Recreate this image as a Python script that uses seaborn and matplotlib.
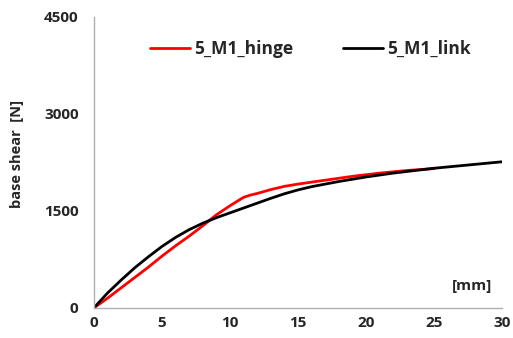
import numpy as np
import pandas as pd
import matplotlib
matplotlib.use("Agg")
import matplotlib.pyplot as plt
import seaborn as sns

# displacement [mm] and base shear [N]
hinge_x = [0, 1, 2, 3, 4, 5, 6, 7, 8, 9, 10, 11, 11.5, 12, 13, 14, 15, 16, 17, 18, 19, 20, 21, 22, 23, 24, 25]
hinge_y = [0, 150, 310, 470, 630, 800, 960, 1110, 1270, 1440, 1580, 1710, 1745, 1770, 1830, 1880, 1915,
           1945, 1975, 2005, 2035, 2060, 2085, 2105, 2125, 2140, 2155]

link_x = list(range(0, 31))
link_y = [0, 230, 430, 620, 790, 950, 1090, 1210, 1310, 1395, 1470, 1545, 1620, 1695, 1765, 1825,
          1875, 1915, 1955, 1990, 2025, 2055, 2085, 2110, 2135, 2160, 2180, 2200, 2220, 2240, 2260]

series_names = ["5_M1_hinge", "5_M1_link"]
x_ticks = [0, 5, 10, 15, 20, 25, 30]
y_ticks = [0, 1500, 3000, 4500]

df = pd.concat([
    pd.DataFrame({"disp": hinge_x, "shear": hinge_y, "model": series_names[0]}),
    pd.DataFrame({"disp": link_x, "shear": link_y, "model": series_names[1]}),
])

sns.set_style("white")
plt.rcParams["font.family"] = ["Open Sans", "DejaVu Sans"]

fig = plt.figure(figsize=(5.13, 3.38), dpi=100)
ax = fig.add_axes([0.183, 0.089, 0.796, 0.861])

sns.lineplot(data=df, x="disp", y="shear", hue="model", sort=False,
             palette={series_names[0]: "#ff0000", series_names[1]: "#000000"},
             linewidth=2, ax=ax)

ax.set_xlim(0, 30)
ax.set_ylim(0, 4500)
ax.set_xticks(x_ticks)
ax.set_yticks(y_ticks)
ax.tick_params(length=0, labelsize=11)
ax.tick_params(axis="y", pad=11)
ax.tick_params(axis="x", pad=6)
for lab in ax.get_xticklabels() + ax.get_yticklabels():
    lab.set_fontweight("bold")

for s in ["top", "right"]:
    ax.spines[s].set_visible(False)
for s in ["left", "bottom"]:
    ax.spines[s].set_color("#b0b0b0")
    ax.spines[s].set_linewidth(1)

ax.set_xlabel("")
ax.set_ylabel("base shear  [N]", fontsize=10.5, fontweight="bold")
ax.yaxis.set_label_coords(-0.17, 0.53)
ax.text(29.3, 230, "[mm]", fontsize=11, fontweight="bold", ha="right", va="bottom")

leg = ax.legend(loc="upper center", bbox_to_anchor=(0.53, 0.975), ncol=2, frameon=False,
                fontsize=12.5, handlelength=2.3, columnspacing=2.9, handletextpad=0.2)
for t in leg.get_texts():
    t.set_fontweight("bold")

fig.savefig("out.png", dpi=100)
